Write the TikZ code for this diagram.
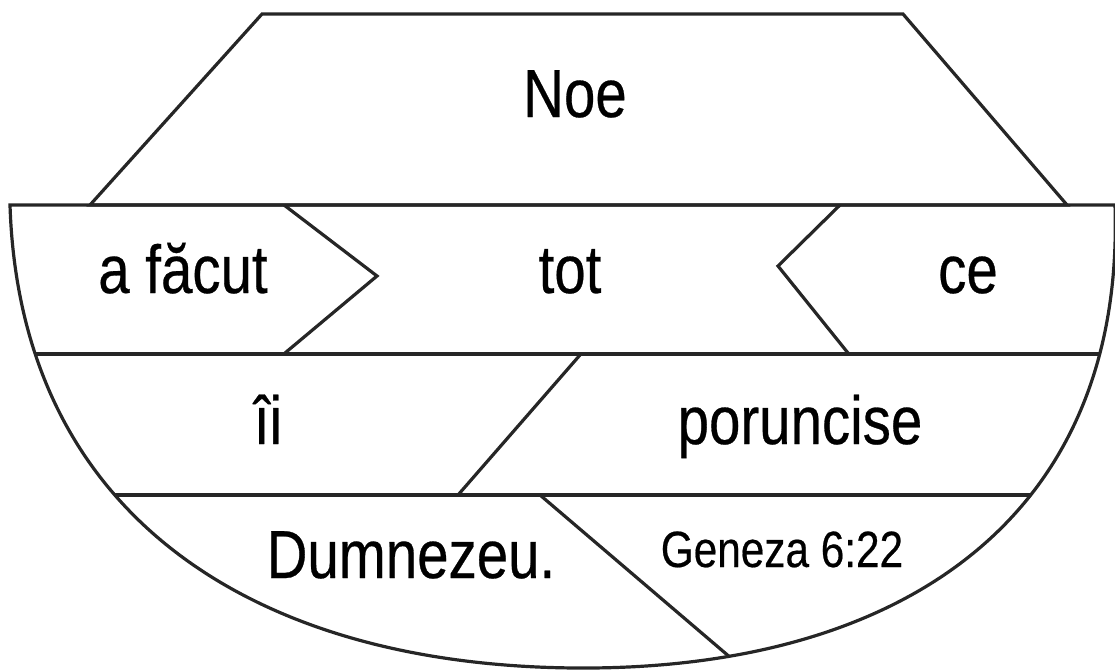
\documentclass[tikz,border=0pt]{standalone}
\usepackage{fontspec}
\setmainfont{Liberation Sans}[FakeStretch=0.83,FakeBold=0.4]
\begin{document}
\begin{tikzpicture}[x=1pt,y=-1pt,
  edge/.style={draw=black!85,line width=3.2pt,line join=miter},
  word/.style={anchor=base,inner sep=0pt,font=\fontsize{68}{70}\selectfont},
  ref/.style={anchor=base,inner sep=0pt,font=\fontsize{51}{54}\selectfont}]
\useasboundingbox (0,0) rectangle (1115,669);
% cabin
\draw[edge] (262,14) -- (903,14) -- (1067,205) -- (90,205) -- cycle;
% inner lines clipped to hull
\begin{scope}
\clip (10,205) .. controls (20,520) and (260,670) .. (590,668) .. controls (900,666) and (1125,520) .. (1115,205) -- cycle;
\draw[edge] (0,354) -- (1115,354);
\draw[edge] (0,495) -- (1115,495);
\draw[edge] (540,495) -- (745,670);
\end{scope}
% chevrons and diagonals
\draw[edge] (284,205) -- (377,276) -- (285,353);
\draw[edge] (840,205) -- (778,266) -- (848,353);
\draw[edge] (580,355) -- (458,495);
% hull
\draw[edge] (10,205) .. controls (20,520) and (260,670) .. (590,668) .. controls (900,666) and (1125,520) .. (1115,205) -- cycle;
% texts
\node[word] (noe) at (575,117) {Noe};
\node[word] (facut) at (183,293) {a făcut};
\node[word] (tot) at (570,293) {tot};
\node[word] (ce) at (968,293) {ce};
\node[word] (ii) at (268,444) {îi};
\node[word] (poruncise) at (800,444) {poruncise};
\node[word] (dumnezeu) at (411,578) {Dumnezeu.};
\node[ref] (geneza) at (782,567) {Geneza 6:22};
\end{tikzpicture}
\end{document}
